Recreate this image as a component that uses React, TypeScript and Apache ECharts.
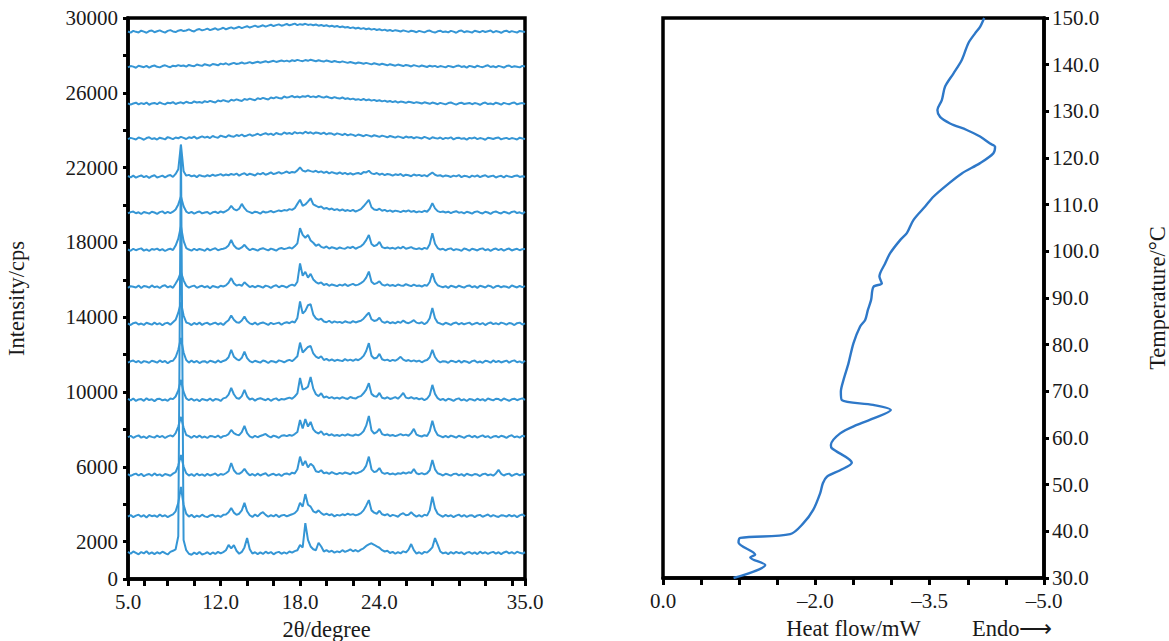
import React, { useEffect, useRef } from "react";
import * as echarts from "echarts";

// ---------- XRD (left panel) ----------
// sampling grid of the diffractometer: 5.0° .. 35.0°, step 0.2°
const TWO_THETA_START = 5.0;
const TWO_THETA_STEP = 0.2;

// vertical offset (cps) of each stacked pattern, bottom to top
const xrdOffsets = [1390, 3370, 5565, 7600, 9580, 11610, 13640, 15620, 17600, 19580, 21510, 23540, 25410, 27390, 29260];

// net intensities (cps), 151 points per pattern
const xrd01 = [
  60, -40, 80, 10, -70, 50, -20, 90, -50, 30,
  -60, 40, -30, 70, 0, -80, 60, 120, 200, 900,
  21830, 700, 150, -40, -90, 20, -60, 50, -80, -30,
  40, -70, 30, -50, 60, -20, 50, 150, 430, 250,
  420, 120, -40, 60, 300, 800, 200, -30, 40, -60,
  30, -50, 70, -20, 50, -70, 20, 60, -40, 30,
  -30, 80, 20, 100, 150, 430, 300, 1600, 700, 350,
  200, 150, 550, 350, 80, 150, 60, 120, 20, 90,
  40, 150, 60, 120, 200, 90, 160, 80, 180, 250,
  380, 460, 520, 440, 350, 280, 150, 80, 120, 0,
  60, -40, 50, -20, 90, 30, 180, 480, 150, -30,
  40, -50, 60, 20, 150, 300, 800, 450, 80, -20,
  30, -60, 50, -30, 60, -10, 40, -70, 20, 50,
  -40, 30, -60, 70, -20, 40, -50, 20, 60, -30,
  40, -60, 30, 80, -20, 50, -40, 70, 10, -30, 40,
];
const xrd02 = [
  -30, 50, -60, 20, 70, -40, 40, -80, 60, -10,
  30, -50, 80, -20, 40, -60, 20, 90, 250, 700,
  1550, 600, 120, -30, 60, -70, 20, -40, 70, -20,
  -60, 30, 70, -40, 20, -50, 60, 80, 200, 430,
  180, 60, 120, 300, 700, 250, 40, -50, 80, -20,
  120, 200, 60, -40, 50, -20, 70, -60, 30, 60,
  -20, 40, 90, 150, 300, 710, 500, 1170, 600, 500,
  250, 180, 300, 150, 60, 120, 40, 90, -20, 60,
  20, 90, 40, 130, 60, 100, 30, 80, 150, 300,
  550, 850, 300, 180, 120, 280, 90, 40, 100, -20,
  60, 20, -40, 90, 150, 40, 70, 200, 60, -30,
  50, -40, 70, 20, 300, 1030, 400, 120, 30, -40,
  60, -20, 40, -60, 20, 70, -30, 50, -50, 20,
  40, -60, 30, 60, -40, 20, 80, -30, 50, -10,
  -50, 40, 20, -30, 60, -20, 40, -60, 30, 80, -10,
];
const xrd03 = [
  40, -50, 20, 70, -30, 60, -70, 10, 50, -40,
  80, -20, 30, -60, 50, 10, -40, 70, 150, 500,
  1070, 450, 90, -30, 40, -60, 70, -20, 30, -50,
  60, -30, 20, 80, -40, 50, 10, 90, 200, 640,
  250, 80, 60, 150, 320, 120, -20, 50, -40, 70,
  -30, 40, 90, -50, 20, 60, -20, 40, -60, 50,
  80, 20, 120, 80, 300, 980, 500, 750, 400, 600,
  480, 200, 150, 250, 90, 130, 60, 150, 80, 40,
  110, 60, 130, 90, 40, 150, 70, 120, 180, 280,
  500, 980, 300, 150, 200, 370, 120, 60, 110, 30,
  80, 20, 90, 60, 130, 70, 140, 100, 320, 90,
  40, 100, 30, 90, 250, 800, 300, 90, 40, -30,
  60, 20, -40, 50, 70, -20, 40, -50, 60, 10,
  -30, 50, 20, -60, 40, 70, -20, 30, -40, 80,
  270, 60, -30, 40, 70, -50, 20, 60, -20, 40, 10,
];
const xrd04 = [
  -20, 60, -50, 30, 80, -40, 20, -70, 50, 0,
  -40, 70, -10, 50, -60, 30, 80, 20, 200, 550,
  1070, 500, 100, 40, -50, 60, -30, 70, -40, 20,
  -60, 50, 30, -20, 70, -50, 40, 60, 150, 370,
  200, 120, 90, 250, 590, 200, 30, -40, 60, -20,
  50, 100, 160, 40, -30, 70, 20, -50, 60, 90,
  40, 100, 60, 150, 260, 900, 450, 950, 550, 800,
  400, 250, 180, 300, 110, 170, 80, 140, 60, 100,
  50, 120, 70, 140, 90, 60, 130, 80, 160, 300,
  600, 1120, 350, 180, 250, 430, 150, 90, 130, 60,
  100, 40, 90, 150, 80, 120, 60, 200, 430, 120,
  60, 20, 90, 50, 300, 860, 350, 100, 40, -20,
  50, -30, 70, 20, -40, 60, 10, -50, 40, 70,
  -20, 50, -40, 30, 80, -10, 40, -60, 20, 50,
  -30, 60, 20, -50, 40, 90, -20, 30, -40, 60, 20,
];
const xrd05 = [
  50, -30, 70, -60, 20, 40, -50, 80, -10, 30,
  -70, 40, 60, -30, 20, -50, 70, 40, 180, 500,
  1070, 420, 80, -20, 60, -40, 30, -70, 50, 10,
  -30, 70, -50, 40, 20, -60, 80, 120, 280, 640,
  300, 100, 60, 200, 530, 180, 20, 70, -40, 50,
  90, 30, -20, 60, -50, 40, 80, -30, 50, 20,
  70, 120, 60, 180, 350, 1170, 550, 600, 700, 1220,
  600, 300, 200, 350, 120, 180, 90, 150, 70, 120,
  60, 140, 90, 50, 150, 100, 70, 160, 200, 350,
  550, 890, 320, 200, 170, 370, 110, 70, 140, 50,
  90, 150, 60, 200, 370, 120, 80, 140, 60, 100,
  30, 80, -20, 60, 250, 800, 320, 90, -10, 50,
  -40, 60, 20, -50, 40, 80, -30, 30, -60, 50,
  20, -40, 60, -20, 40, -50, 70, 20, -30, 60,
  40, -40, 70, 10, -50, 30, 60, -20, 40, 80, 0,
];
const xrd06 = [
  -40, 30, 70, -20, 50, -60, 40, 10, -50, 60,
  20, -40, 80, -10, 50, -70, 30, 60, 250, 650,
  1280, 500, 100, -40, 70, -30, 50, -60, 20, 40,
  -50, 60, 20, -40, 80, -20, 50, 100, 250, 640,
  280, 150, 80, 220, 550, 200, 40, -30, 60, 10,
  -40, 70, 30, -60, 50, 20, -30, 80, 40, -20,
  60, 110, 40, 160, 300, 1030, 500, 650, 800, 850,
  450, 280, 200, 300, 100, 160, 70, 130, 50, 110,
  80, 40, 150, 70, 120, 60, 140, 90, 180, 320,
  580, 1000, 330, 180, 220, 430, 140, 80, 120, 40,
  110, 60, 150, 270, 120, 50, 100, 30, 80, 20,
  70, -20, 60, 100, 250, 640, 260, 60, -30, 40,
  20, -50, 60, 30, -20, 70, -40, 50, 10, -60,
  40, 70, -30, 20, -50, 60, 30, -40, 80, -10,
  50, -30, 20, 70, -40, 40, 80, -20, 30, -50, 60,
];
const xrd07 = [
  30, -60, 40, 80, -30, 20, -50, 60, 10, -40,
  70, -20, 40, -70, 30, 60, -40, 90, 220, 600,
  1150, 450, 80, 30, -60, 50, -20, 70, -50, 30,
  60, -40, 20, 70, -30, 40, -60, 90, 200, 450,
  220, 90, 60, 180, 400, 160, 30, -20, 70, -40,
  40, 80, 20, -50, 60, -10, 30, 70, -40, 50,
  90, 40, 130, 80, 320, 1200, 550, 700, 1000, 1050,
  500, 300, 220, 280, 130, 90, 170, 60, 140, 80,
  110, 50, 140, 90, 60, 150, 80, 130, 170, 280,
  450, 600, 250, 160, 200, 330, 120, 60, 130, 40,
  90, 30, 120, 60, 180, 80, 40, 110, 200, 70,
  30, 90, -20, 80, 300, 850, 300, 70, 20, -40,
  60, 10, -50, 40, 80, -30, 50, -20, 30, 70,
  -40, 20, 60, -30, 50, -60, 30, 80, -10, 40,
  -20, 70, 30, -40, 50, 20, -60, 40, 70, -30, 30,
];
const xrd08 = [
  -50, 40, 10, -30, 70, -60, 50, 20, -40, 80,
  -20, 30, -60, 50, 90, -30, 40, -50, 180, 420,
  800, 350, 60, -40, 30, 70, -50, 20, 60, -20,
  40, -70, 50, 10, -40, 60, 20, 80, 220, 470,
  200, 70, 120, 60, 250, 120, -10, 50, -30, 60,
  20, -40, 70, 30, -50, 40, 90, -20, 60, 30,
  -30, 70, 120, 60, 280, 1260, 600, 800, 500, 700,
  400, 260, 180, 240, 100, 160, 60, 130, 90, 40,
  120, 70, 150, 50, 110, 160, 80, 120, 200, 300,
  500, 820, 280, 150, 200, 300, 120, 70, 140, 60,
  100, 40, 130, 80, 60, 150, 90, 40, 120, 50,
  80, 20, 100, 60, 260, 730, 280, 90, 30, -20,
  40, -50, 60, 20, -30, 70, 10, -40, 50, 80,
  -20, 40, -50, 60, 20, -30, 70, 40, -60, 30,
  60, -20, 40, 10, -50, 80, 20, -30, 50, -10, 40,
];
const xrd09 = [
  20, -50, 60, -20, 40, 80, -40, 30, -60, 50,
  10, 70, -30, 40, -60, 20, 60, -10, 230, 600,
  1250, 480, 100, 20, -40, 60, -20, 50, 10, -50,
  70, -30, 40, 90, -20, 30, 60, 110, 240, 530,
  230, 90, 50, 130, 270, 100, -20, 60, 20, -40,
  50, 90, 30, -30, 70, 20, -40, 60, 100, 40,
  80, 130, 70, 190, 350, 1160, 800, 650, 800, 500,
  380, 220, 300, 160, 110, 180, 70, 140, 100, 50,
  130, 80, 60, 150, 100, 170, 60, 130, 190, 320,
  520, 800, 310, 200, 260, 430, 150, 90, 130, 70,
  110, 50, 140, 80, 170, 60, 100, 150, 70, 40,
  90, 30, 110, 50, 300, 890, 330, 100, 20, 60,
  -30, 50, 80, -20, 40, 10, -50, 70, 30, -40,
  60, 20, -30, 50, 80, -20, 40, -50, 30, 70,
  -10, 50, -40, 30, 70, -30, 20, 60, -20, 40, 50,
];
const xrd10 = [
  -30, 40, 70, -20, 30, -60, 50, 10, -40, 60,
  20, -50, 40, 80, -30, 50, -20, 60, 180, 450,
  870, 350, 70, -20, 50, -40, 30, 70, -30, 20,
  50, -60, 30, 60, -10, 80, 20, 90, 180, 370,
  200, 130, 220, 480, 250, 90, 40, -20, 60, 30,
  -40, 70, 20, 50, 100, 30, 80, 130, 90, 150,
  120, 200, 160, 250, 480, 700, 380, 450, 600, 780,
  450, 380, 300, 340, 220, 260, 180, 230, 150, 200,
  120, 180, 100, 150, 90, 160, 70, 130, 200, 350,
  520, 700, 300, 180, 150, 220, 110, 160, 80, 130,
  60, 120, 90, 40, 110, 70, 130, 50, 100, 30,
  80, 40, 110, 60, 220, 520, 240, 90, 40, 70,
  20, 60, -20, 50, 90, 10, 40, -30, 60, 20,
  -40, 50, 80, 10, -30, 60, 20, -50, 40, 70,
  10, -30, 60, 20, -40, 50, 80, -10, 30, -40, 50,
];
const xrd11 = [
  40, -30, 60, -50, 20, 70, -20, 40, -60, 30,
  80, -40, 10, 60, -30, 50, 90, -10, 150, 400,
  1720, 300, 60, 100, 20, 70, -20, 90, 40, 10,
  80, 30, 110, 50, 90, 140, 60, 120, 80, 150,
  100, 170, 60, 140, 190, 90, 160, 120, 70, 180,
  130, 210, 110, 160, 230, 140, 190, 250, 170, 220,
  280, 200, 260, 230, 340, 500, 330, 280, 350, 300,
  260, 320, 240, 290, 210, 270, 180, 250, 200, 160,
  230, 150, 210, 130, 190, 120, 170, 200, 140, 250,
  230, 320, 180, 140, 200, 110, 170, 90, 150, 120,
  60, 130, 90, 150, 40, 110, 80, 30, 120, 70,
  100, 40, 90, 20, 130, 230, 110, 50, 80, 10,
  70, 40, -10, 60, 20, 90, -20, 50, 30, -30,
  60, 10, 70, -20, 40, 80, -10, 30, 60, -40,
  20, 50, -30, 60, 10, -20, 40, 70, -10, 30, 0,
];
const xrd12 = [
  -20, 50, 10, -40, 70, 20, -50, 40, 80, -10,
  30, -40, 60, 20, -30, 90, 40, -20, 70, 30,
  100, 50, -10, 80, 40, 120, 10, 70, 130, 60,
  110, 40, 150, 90, 60, 170, 120, 80, 190, 140,
  110, 200, 150, 230, 130, 180, 240, 160, 210, 270,
  190, 250, 300, 220, 280, 200, 310, 260, 230, 340,
  270, 310, 250, 360, 290, 330, 280, 380, 300, 350,
  270, 340, 310, 260, 330, 240, 300, 280, 210, 290,
  250, 200, 270, 180, 240, 210, 150, 230, 190, 140,
  210, 170, 120, 190, 150, 100, 170, 130, 80, 150,
  110, 60, 130, 90, 40, 120, 70, 100, 30, 90,
  60, 20, 100, 50, -10, 80, 40, 10, 70, -20,
  50, 20, 80, -30, 40, 60, 0, 30, -40, 50,
  20, 70, -20, 40, 10, -50, 60, 30, -10, 40,
  70, -30, 20, 50, -20, 40, 10, -40, 60, 20, -10,
];
const xrd13 = [
  30, -40, 20, 60, -30, 40, -10, 70, -50, 20,
  50, -20, 80, 10, -30, 60, 30, 90, -10, 50,
  80, 20, 110, 60, 40, 130, 70, 100, 50, 140,
  90, 160, 110, 70, 180, 130, 200, 150, 110, 220,
  170, 240, 190, 150, 260, 210, 280, 230, 190, 300,
  250, 320, 270, 230, 340, 290, 360, 310, 280, 390,
  330, 370, 420, 350, 390, 340, 410, 380, 440, 360,
  400, 350, 420, 370, 330, 390, 340, 300, 360, 310,
  280, 340, 260, 300, 240, 280, 220, 250, 200, 260,
  190, 230, 170, 210, 150, 190, 130, 170, 110, 150,
  90, 140, 70, 120, 100, 50, 110, 80, 40, 90,
  60, 20, 80, 40, 0, 70, 30, -20, 50, 10,
  -30, 40, 70, 10, -40, 30, 60, -10, 20, 50,
  -20, 40, 10, -50, 30, 70, -10, 20, -30, 60,
  20, -40, 50, 10, -20, 40, 70, -30, 20, 40, -10,
];
const xrd14 = [
  -30, 40, 10, -50, 60, 20, -20, 50, -40, 30,
  70, 0, -30, 40, 80, 20, -20, 60, 30, 90,
  40, 70, 10, 100, 60, 30, 120, 80, 50, 140,
  100, 60, 150, 120, 80, 170, 130, 190, 110, 160,
  210, 150, 180, 230, 170, 200, 250, 190, 230, 270,
  220, 260, 300, 240, 280, 320, 260, 300, 340, 290,
  330, 280, 350, 310, 370, 330, 300, 360, 320, 380,
  340, 300, 350, 310, 280, 340, 300, 260, 310, 270,
  240, 290, 250, 210, 260, 220, 180, 230, 200, 160,
  210, 170, 130, 190, 150, 110, 160, 120, 80, 140,
  100, 60, 120, 80, 40, 100, 70, 20, 90, 50,
  10, 70, 30, -10, 60, 20, 50, -20, 40, 10,
  -30, 50, 20, -20, 40, 70, -10, 30, -40, 50,
  20, -30, 60, 10, -20, 40, 80, -10, 30, -30,
  50, 10, -40, 40, 70, -20, 30, 0, -30, 50, 20,
];
const xrd15 = [
  20, -40, 50, 0, -30, 60, 10, -50, 40, 70,
  -20, 30, 80, 10, -40, 50, 90, 20, -10, 60,
  100, 40, 70, 130, 60, 20, 110, 150, 80, 120,
  170, 90, 140, 190, 110, 160, 220, 130, 190, 240,
  170, 220, 270, 200, 250, 300, 230, 280, 330, 260,
  300, 350, 280, 330, 380, 310, 360, 400, 330, 370,
  420, 350, 390, 440, 360, 410, 380, 430, 370, 400,
  350, 390, 330, 370, 310, 350, 290, 330, 270, 310,
  250, 290, 230, 260, 200, 240, 180, 220, 160, 200,
  140, 180, 120, 160, 100, 140, 80, 120, 60, 100,
  40, 90, 60, 20, 80, 40, 0, 60, 30, -20,
  50, 10, -30, 40, 70, 0, -40, 30, 60, -10,
  20, -30, 50, 10, -50, 40, 70, -20, 30, 0,
  -40, 60, 20, -20, 50, -10, 30, 70, -30, 40,
  10, -50, 30, 60, -20, 40, 0, -40, 50, 20, -10,
];

const xrdTickValues = [5, 6.2, 8, 10, 12, 14, 16, 18, 20, 22, 24, 26, 28, 30, 32, 34, 35];
const xrdLabelValues = [5, 12, 18, 24, 35];
const intensityLabelValues = [0, 2000, 6000, 10000, 14000, 18000, 22000, 26000, 30000];

// ---------- DSC (right panel) ----------
const dscTemperature = [
  30, 32.8, 34.4, 35, 37.6, 38.6, 39.4, 41.7, 44.6, 48.2, 50.3, 51.7, 53.1, 54.7,
  57.8, 58.5, 61, 62.8, 64.2, 66, 67.1, 68.1, 69.9, 72.4, 76, 80.3, 83.9, 85.3,
  87.4, 89.6, 92.4, 93.1, 94.6, 97.4, 99.6, 102.4, 103.9, 106.7, 109.6, 111.7,
  114.2, 116.7, 118.9, 121, 122.4, 123.1, 124.6, 126, 127.4, 128.8, 130.3, 132.4,
  135.3, 138.1, 141, 144.6, 146.7, 148.1, 150,
];
const dscHeatFlow = [
  -0.926, -1.341, -1.145, -1.21, -0.991, -1.014, -1.669, -1.84, -1.971, -2.063, -2.098, -2.151, -2.325, -2.478,
  -2.216, -2.203, -2.325, -2.544, -2.762, -2.99, -2.758, -2.347, -2.334, -2.368, -2.434, -2.499, -2.587, -2.653,
  -2.688, -2.731, -2.762, -2.872, -2.84, -2.915, -2.981, -3.112, -3.2, -3.286, -3.44, -3.548,
  -3.724, -3.921, -4.161, -4.335, -4.358, -4.292, -4.161, -3.986, -3.767, -3.636, -3.601, -3.659,
  -3.702, -3.811, -3.921, -4.007, -4.095, -4.161, -4.215,
];
const heatFlowLabelValues = [0, -2, -3.5, -5];

const FONT = "Liberation Serif";
const TEXT = "#1a1a1a";
const XRD_COLOR = "#3596d5";
const DSC_COLOR = "#2e78c8";

export default function App() {
  const ref = useRef<HTMLDivElement>(null);
  useEffect(() => {
    document.body.style.margin = "0";
    const chart = echarts.init(ref.current!, null, { renderer: "svg" });
    const xrdTraces = [xrd01, xrd02, xrd03, xrd04, xrd05, xrd06, xrd07, xrd08, xrd09, xrd10, xrd11, xrd12, xrd13, xrd14, xrd15];

    const axisLine = { show: true, onZero: false, lineStyle: { color: "#000", width: 3.5 } };
    const tick = (len: number) => ({ show: true, inside: false, length: len, lineStyle: { color: "#000", width: 3 } });
    const label = { color: TEXT, fontFamily: FONT, fontSize: 21 };
    const nameStyle = { color: TEXT, fontFamily: FONT, fontSize: 22.5 };
    const fmtHF = (v: number) => (v === 0 ? "0.0" : "\u2013" + Math.abs(v).toFixed(1));

    const xrdSeries = xrdTraces.map((t, k) => ({
      type: "line",
      xAxisIndex: 0,
      yAxisIndex: 0,
      showSymbol: false,
      silent: true,
      lineStyle: { color: XRD_COLOR, width: 2 },
      data: t.map((v, i) => [TWO_THETA_START + TWO_THETA_STEP * i, v + xrdOffsets[k]]),
    }));

    chart.setOption({
      animation: false,
      backgroundColor: "#fff",
      textStyle: { fontFamily: FONT },
      grid: [
        { left: 128, top: 18, width: 397, height: 561, containLabel: false, outerBoundsMode: "none", show: true, borderColor: "#000", borderWidth: 3.5, backgroundColor: "transparent" },
        { left: 663, top: 18, width: 381, height: 560, containLabel: false, outerBoundsMode: "none", show: true, borderColor: "#000", borderWidth: 3.5, backgroundColor: "transparent" },
      ],
      xAxis: [
        {
          type: "value", gridIndex: 0, min: 5, max: 35,
          axisLine, splitLine: { show: false },
          axisTick: { ...tick(7), customValues: xrdTickValues },
          axisLabel: { ...label, margin: 12, customValues: xrdLabelValues, formatter: (v: number) => v.toFixed(1) },
          name: "2\u03b8/degree", nameLocation: "middle", nameGap: 39, nameTextStyle: nameStyle,
        },
        {
          type: "value", gridIndex: 1, min: -5, max: 0, interval: 0.5, inverse: true,
          axisLine, splitLine: { show: false },
          axisTick: tick(7),
          axisLabel: { ...label, margin: 12, customValues: heatFlowLabelValues, formatter: fmtHF },
          name: "Heat flow/mW", nameLocation: "middle", nameGap: 39, nameTextStyle: nameStyle,
        },
      ],
      yAxis: [
        {
          type: "value", gridIndex: 0, min: 0, max: 30000, interval: 2000,
          axisLine, splitLine: { show: false },
          axisTick: tick(5),
          axisLabel: { ...label, margin: 10, customValues: intensityLabelValues, formatter: (v: number) => String(v) },
          name: "Intensity/cps", nameLocation: "middle", nameGap: 100, nameRotate: 90, nameTextStyle: nameStyle,
        },
        {
          type: "value", gridIndex: 1, position: "right", min: 30, max: 150, interval: 10,
          axisLine, splitLine: { show: false },
          axisTick: tick(5),
          axisLabel: { ...label, margin: 8, formatter: (v: number) => v.toFixed(1) },
          name: "Temperature/\u00b0C", nameLocation: "middle", nameGap: 102, nameRotate: 90, nameTextStyle: nameStyle,
        },
      ],
      graphic: [
        {
          type: "text", left: 972, top: 617,
          style: { text: "Endo\u27f6", fill: TEXT, fontFamily: FONT, fontSize: 22.5 },
        },
      ],
      series: [
        ...xrdSeries,
        {
          type: "line",
          xAxisIndex: 1,
          yAxisIndex: 1,
          showSymbol: false,
          silent: true,
          smooth: 0.3,
          lineStyle: { color: DSC_COLOR, width: 2.4 },
          data: dscHeatFlow.map((h, i) => [h, dscTemperature[i]]),
        },
      ],
    });
    return () => chart.dispose();
  }, []);
  return <div ref={ref} style={{ width: 1169, height: 641 }} />;
}
